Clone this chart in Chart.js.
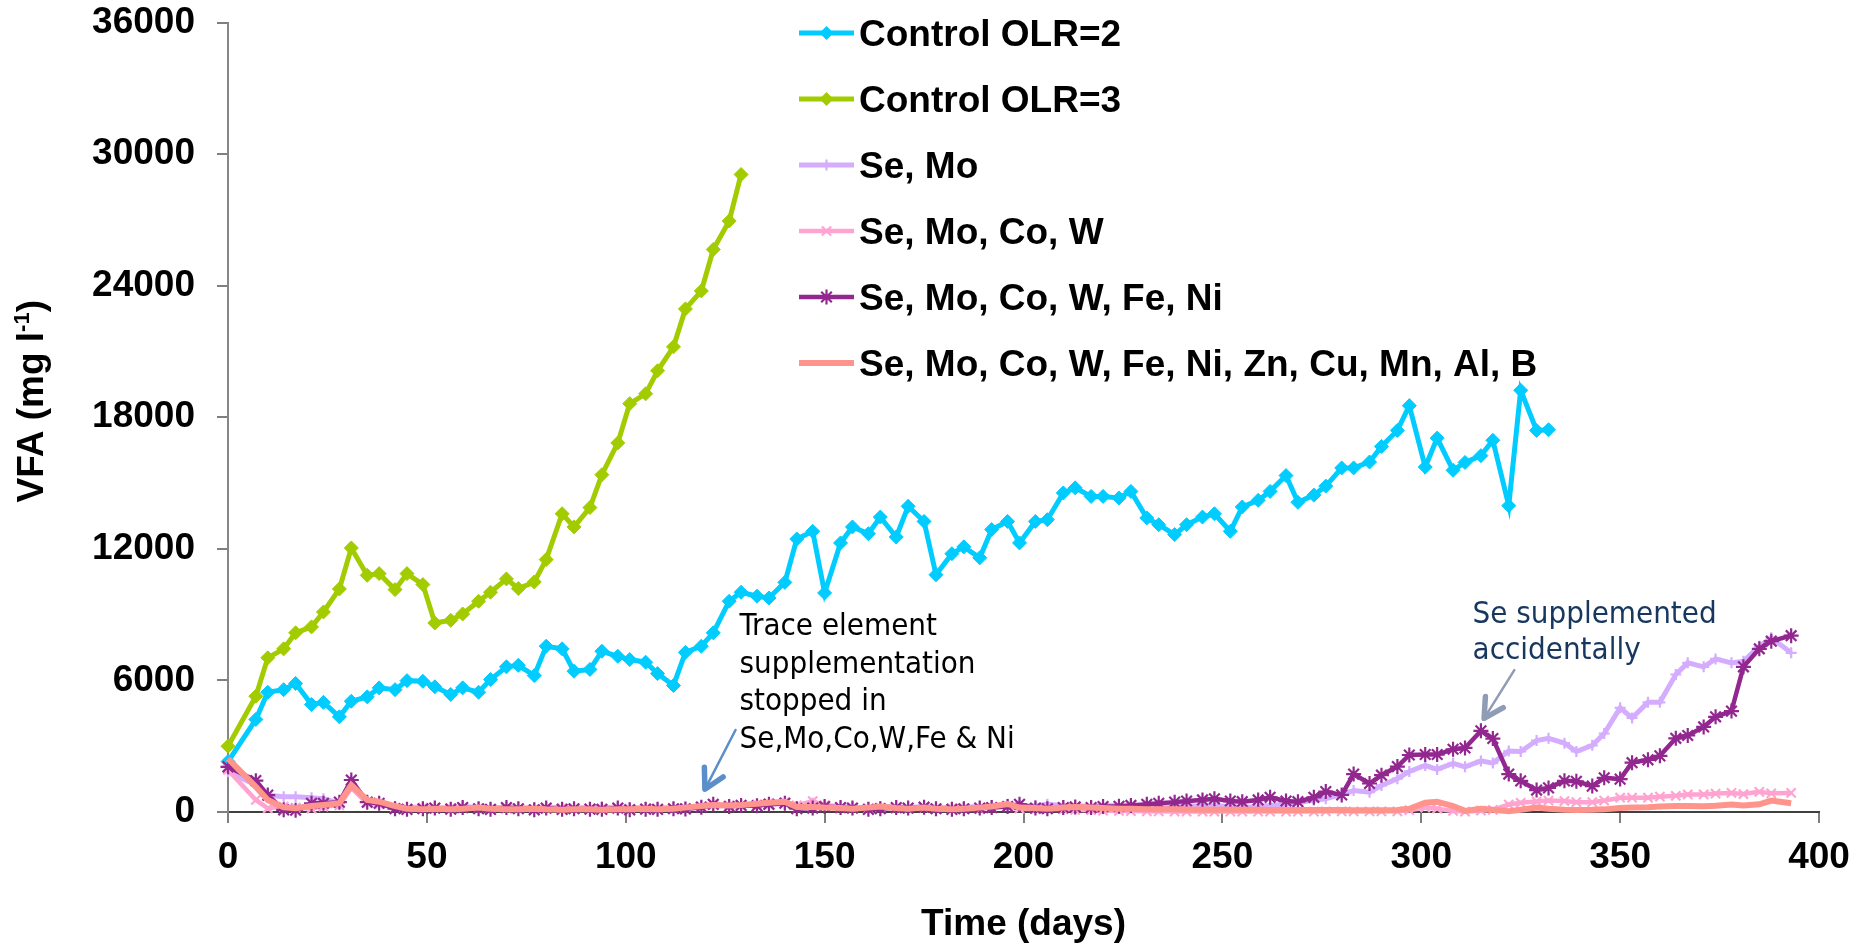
<!DOCTYPE html>
<html><head><meta charset="utf-8">
<script src="https://cdn.jsdelivr.net/npm/chart.js@4/dist/chart.umd.min.js"></script>
<style>html,body{margin:0;padding:0;background:#fff}#wrap{width:1864px;height:943px}</style>
</head><body><div id="wrap"><canvas id="c" width="1864" height="943"></canvas></div>
<script>
// ---------- DATA ----------
const days = [0,7,10,14,17,21,24,28,31,35,38,42,45,49,52,56,59,63,66,70,73,77,80,84,87,91,94,98,101,105,108,112,115,119,122,126,129,133,136,140,143,147,150,154,157,161,164,168,171,175,178,182,185,189,192,196,199,203,206,210,213,217,220,224,227,231,234,238,241,245,248,252,255,259,262,266,269,273,276,280,283,287,290,294,297,301,304,308,311,315,318,322,325,329,332,336,339,343,346,350,353,357,360,364,367,371,374,378,381,385,388,393];

const controlOLR2 = [2300,4220,5460,5580,5860,4900,5000,4340,5050,5250,
  5660,5580,5990,5960,5710,5360,5660,5460,6040,6620,
  6690,6220,7560,7440,6420,6500,7330,7100,6950,6830,
  6310,5770,7280,7560,8170,9610,10020,9840,9760,10470,
  12450,12800,9990,12270,13000,12690,13450,12540,13940,13250,
  10820,11780,12090,11590,12880,13250,12270,13250,13330,14550,
  14780,14390,14390,14320,14620,13410,13100,12650,13100,13450,
  13600,12800,13910,14210,14620,15340,14120,14450,14860,15690,
  15690,15960,16670,17400,18530,15730,17050,15580,15940,16250,
  16950,13970,19230,17400,17430];

const controlOLR3 = [3000,5280,7030,7440,8170,8440,9120,10170,12040,10790,
  10870,10140,10870,10370,8620,8740,9030,9610,10020,10630,
  10190,10490,11510,13600,13000,13880,15380,16830,18620,19070,
  20120,21210,22940,23760,25650,26950,29070];

const seMo = [1840,1230,760,700,700,650,600,400,1200,500,
  450,250,200,230,200,180,250,200,180,230,
  200,180,220,200,180,200,220,200,180,200,
  180,200,220,250,300,280,300,320,350,380,
  250,400,300,250,220,200,250,230,200,250,
  220,200,220,250,300,350,300,280,350,300,
  300,250,300,280,250,300,280,250,300,250,
  280,250,210,250,300,350,420,540,600,800,
  980,900,1210,1520,1850,2120,1940,2220,2060,2330,
  2230,2780,2760,3260,3360,3140,2760,3040,3580,4750,
  4290,5000,5000,6270,6800,6620,6980,6800,6870,7560,
  7940,7260];

const seMoCoW = [1920,550,170,250,200,150,250,300,1100,400,
  350,200,150,200,150,180,200,150,130,180,
  150,130,150,180,150,130,150,180,130,150,
  130,150,180,250,350,300,300,350,400,450,
  300,500,300,200,180,150,200,180,150,200,
  150,180,150,130,200,250,150,130,150,120,
  100,80,60,50,40,30,30,20,20,20,
  20,20,20,20,20,20,20,20,30,30,
  30,30,30,30,80,200,150,50,20,60,
  100,340,420,480,520,500,450,450,520,650,
  650,650,700,740,800,800,840,870,820,920,
  850,870];

const seMoCoWFeNi = [2060,1430,770,100,80,400,400,450,1460,450,
  400,150,120,150,180,130,200,150,120,200,
  150,100,180,120,150,130,120,180,100,130,
  120,150,140,220,350,250,300,280,350,400,
  150,180,250,200,180,120,150,200,180,220,
  150,120,150,180,200,250,350,180,150,200,
  230,200,250,260,300,350,400,450,500,550,
  600,500,470,550,670,500,470,670,930,780,
  1730,1300,1680,2070,2600,2620,2620,2860,2920,3700,
  3350,1730,1420,1000,1100,1420,1400,1180,1560,1500,
  2250,2380,2560,3360,3490,3880,4340,4600,6620,7440,
  7790,8040];

const seMoAll = [2430,1150,550,210,170,270,320,400,1230,550,
  470,270,150,120,150,130,150,200,150,120,
  130,150,120,100,130,120,100,120,130,150,
  120,150,200,270,320,300,320,380,420,470,
  230,230,200,180,150,200,250,180,150,200,
  150,120,150,200,250,365,200,180,150,200,
  230,200,180,150,150,130,120,120,110,100,
  100,100,100,100,90,90,90,90,90,90,
  80,80,80,90,150,420,470,270,50,150,
  100,30,100,200,150,100,90,100,120,180,
  200,220,250,270,270,260,280,340,300,350,
  520,400];

const seriesNames = ['Control OLR=2','Control OLR=3','Se, Mo','Se, Mo, Co, W','Se, Mo, Co, W, Fe, Ni','Se, Mo, Co, W, Fe, Ni, Zn, Cu, Mn, Al, B'];
const xTicks = [0,50,100,150,200,250,300,350,400];
const yTicks = [0,6000,12000,18000,24000,30000,36000];
const xTitle = 'Time (days)';
const yTitle = ['VFA (mg l', '-1', ')'];
const note1 = ['Trace element','supplementation','stopped in','Se,Mo,Co,W,Fe & Ni'];
const note2 = ['Se supplemented','accidentally'];

// ---------- STYLE ----------
const colors = ['#00CCFF','#A2CC00','#D4ADFF','#FFA3D1','#92278F','#FF948C'];
const markers = ['rectRot','rectRot','cross','crossRot','star','none'];
const mRadius = [7,7,5.5,6.5,7.5,0];
const FONT = '"Liberation Sans", Arial, Helvetica, sans-serif';
const NOTE_FONT = '"DejaVu Sans Condensed", "DejaVu Sans", Verdana, sans-serif';

const series = [controlOLR2, controlOLR3, seMo, seMoCoW, seMoCoWFeNi, seMoAll];
const widths = [5,5,5,4.5,4.5,6];

const datasets = series.map((vals, i) => ({
  label: seriesNames[i],
  data: vals.map((v, k) => ({x: days[k], y: v})),
  borderColor: colors[i],
  backgroundColor: colors[i],
  borderWidth: widths[i],
  pointStyle: markers[i] === 'none' ? false : markers[i],
  pointRadius: mRadius[i],
  pointBorderWidth: markers[i] === 'rectRot' ? 1 : 2.2,
  pointBackgroundColor: colors[i],
  pointBorderColor: colors[i],
  tension: 0,
  clip: false,
  order: 10 - i
}));

function drawMarker(ctx, style, x, y, r, color) {
  ctx.save();
  ctx.strokeStyle = color; ctx.fillStyle = color; ctx.lineWidth = 2.2;
  ctx.beginPath();
  if (style === 'rectRot') {
    ctx.moveTo(x - r, y); ctx.lineTo(x, y - r); ctx.lineTo(x + r, y); ctx.lineTo(x, y + r); ctx.closePath(); ctx.fill();
  } else {
    if (style === 'cross' || style === 'star') { ctx.moveTo(x, y - r); ctx.lineTo(x, y + r); ctx.moveTo(x - r, y); ctx.lineTo(x + r, y); }
    if (style === 'crossRot' || style === 'star') { const d = r * Math.SQRT1_2; ctx.moveTo(x - d, y - d); ctx.lineTo(x + d, y + d); ctx.moveTo(x - d, y + d); ctx.lineTo(x + d, y - d); }
    ctx.stroke();
  }
  ctx.restore();
}

function arrow(ctx, x1, y1, x2, y2, color) {
  ctx.save();
  ctx.strokeStyle = color; ctx.lineCap = 'round'; ctx.lineJoin = 'round';
  ctx.lineWidth = 2.5;
  ctx.beginPath(); ctx.moveTo(x1, y1); ctx.lineTo(x2, y2); ctx.stroke();
  const a = Math.atan2(y2 - y1, x2 - x1), L = 22, s = 0.5;
  ctx.lineWidth = 5.5;
  ctx.beginPath();
  ctx.moveTo(x2 - L * Math.cos(a - s), y2 - L * Math.sin(a - s));
  ctx.lineTo(x2, y2);
  ctx.lineTo(x2 - L * Math.cos(a + s), y2 - L * Math.sin(a + s));
  ctx.stroke();
  ctx.restore();
}

// annotation anchors in data units (days, mg/l)
const note1Anchor = {x: 128.6, y: 8070};
const arrow1 = {from: {x: 127.6, y: 3740}, to: {x: 119.9, y: 1035}};
const note2Anchor = {x: 312.9, y: 8610};
const arrow2 = {from: {x: 323.4, y: 6470}, to: {x: 315.8, y: 4270}};

const decor = {
  id: 'decor',
  afterDatasetsDraw(chart) {
    const ctx = chart.ctx, ca = chart.chartArea, xs = chart.scales.x, ys = chart.scales.y;
    // Legend
    const lx0 = 799, lx1 = 854, ly0 = 33, ldy = 66;
    seriesNames.forEach((name, i) => {
      const y = ly0 + i * ldy;
      ctx.save();
      ctx.strokeStyle = colors[i]; ctx.lineWidth = widths[i];
      ctx.beginPath(); ctx.moveTo(lx0, y); ctx.lineTo(lx1, y); ctx.stroke();
      ctx.restore();
      if (markers[i] !== 'none') drawMarker(ctx, markers[i], (lx0 + lx1) / 2, y, mRadius[i], colors[i]);
      ctx.save();
      ctx.fillStyle = '#000'; ctx.font = 'bold 37px ' + FONT;
      ctx.textAlign = 'left'; ctx.textBaseline = 'middle';
      ctx.fillText(name, 859, y + 3);
      ctx.restore();
    });
    // Axis titles
    ctx.save();
    ctx.fillStyle = '#000'; ctx.font = 'bold 37px ' + FONT;
    ctx.textAlign = 'center'; ctx.textBaseline = 'alphabetic';
    ctx.fillText(xTitle, (ca.left + ca.right) / 2, 935);
    ctx.restore();
    ctx.save();
    const cy = (ca.top + ca.bottom) / 2 - 16;
    ctx.translate(43, cy); ctx.rotate(-Math.PI / 2);
    ctx.fillStyle = '#000'; ctx.textBaseline = 'alphabetic'; ctx.textAlign = 'left';
    const big = 'bold 37px ' + FONT, small = 'bold 22px ' + FONT;
    ctx.font = big; const w1 = ctx.measureText(yTitle[0]).width, w3 = ctx.measureText(yTitle[2]).width;
    ctx.font = small; const w2 = ctx.measureText(yTitle[1]).width;
    let x = -(w1 + w2 + w3) / 2;
    ctx.font = big; ctx.fillText(yTitle[0], x, 0); x += w1;
    ctx.font = small; ctx.fillText(yTitle[1], x, -14); x += w2;
    ctx.font = big; ctx.fillText(yTitle[2], x, 0);
    ctx.restore();
    // Annotations
    ctx.save();
    ctx.font = '31px ' + NOTE_FONT; ctx.textAlign = 'left'; ctx.textBaseline = 'alphabetic';
    ctx.fillStyle = '#000';
    let tx = xs.getPixelForValue(note1Anchor.x), ty = ys.getPixelForValue(note1Anchor.y);
    note1.forEach((t, i) => ctx.fillText(t, tx, ty + i * 37.7));
    ctx.fillStyle = '#17375E';
    tx = xs.getPixelForValue(note2Anchor.x); ty = ys.getPixelForValue(note2Anchor.y);
    note2.forEach((t, i) => ctx.fillText(t, tx, ty + i * 36));
    ctx.restore();
    arrow(ctx, xs.getPixelForValue(arrow1.from.x), ys.getPixelForValue(arrow1.from.y), xs.getPixelForValue(arrow1.to.x), ys.getPixelForValue(arrow1.to.y), '#5B8FCB');
    arrow(ctx, xs.getPixelForValue(arrow2.from.x), ys.getPixelForValue(arrow2.from.y), xs.getPixelForValue(arrow2.to.x), ys.getPixelForValue(arrow2.to.y), '#8E9DB5');
  }
};

Chart.defaults.font.family = FONT;
new Chart(document.getElementById('c'), {
  type: 'line',
  data: {datasets},
  options: {
    responsive: false, animation: false, devicePixelRatio: 1,
    layout: {padding: {left: 0, right: 45, top: 22.5, bottom: 0}},
    plugins: {legend: {display: false}, tooltip: {enabled: false}},
    elements: {line: {tension: 0}},
    scales: {
      x: {
        type: 'linear', min: 0, max: 400,
        afterBuildTicks: s => { s.ticks = xTicks.map(v => ({value: v})); },
        afterFit: s => { s.height = 131; s.paddingLeft = 0; s.paddingRight = 0; },
        grid: {display: true, drawOnChartArea: false, drawTicks: true, tickLength: 11, color: '#7f7f7f', lineWidth: 2},
        border: {display: true, color: '#404040', width: 2},
        ticks: {font: {size: 37, weight: 'bold'}, color: '#000', padding: 13, maxRotation: 0, autoSkip: false,
                callback: v => String(v)}
      },
      y: {
        type: 'linear', min: 0, max: 36000,
        afterBuildTicks: s => { s.ticks = yTicks.map(v => ({value: v})); },
        afterFit: s => { s.width = 228; s.paddingTop = 0; s.paddingBottom = 0; },
        grid: {display: true, drawOnChartArea: false, drawTicks: true, tickLength: 11, color: '#7f7f7f', lineWidth: 2},
        border: {display: true, color: '#868686', width: 2},
        ticks: {font: {size: 37, weight: 'bold'}, color: '#000', padding: 22, autoSkip: false,
                callback: v => String(v)}
      }
    }
  },
  plugins: [decor]
});
</script></body></html>
